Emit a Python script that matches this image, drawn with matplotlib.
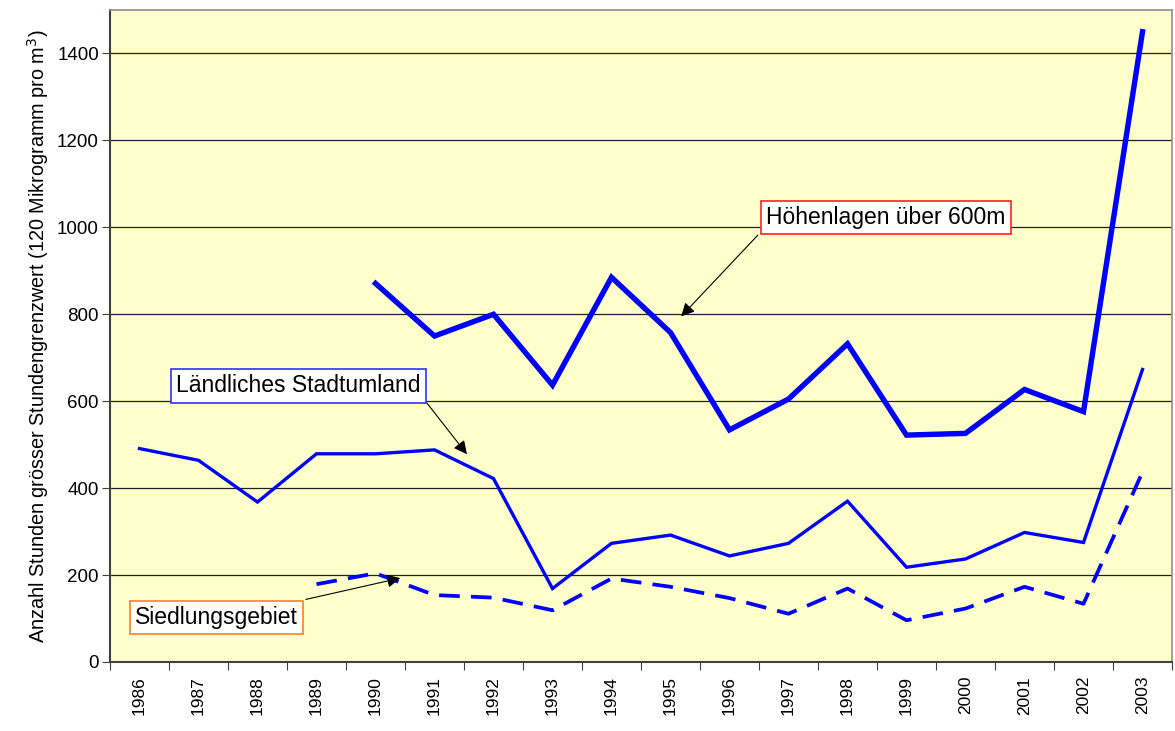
import matplotlib.pyplot as plt
import numpy as np

plt.rcParams['font.family'] = ['Liberation Sans', 'DejaVu Sans']

years = [str(y) for y in range(1986, 2004)]
nan = np.nan
hoehenlagen = [nan, nan, nan, nan, 871, 750, 800, 637, 885, 758, 534, 605, 732, 522, 526, 627, 576, 1450]
stadtumland = [491, 464, 368, 479, 479, 488, 422, 169, 273, 292, 244, 273, 370, 218, 237, 298, 275, 673]
siedlung = [nan, nan, nan, 179, 204, 154, 148, 119, 192, 173, 147, 111, 169, 96, 123, 173, 134, 437]

fig = plt.figure(figsize=(11.75, 7.31), dpi=100)
ax = fig.add_axes([110 / 1175, 1 - 662 / 731, (1172 - 110) / 1175, (662 - 10) / 731])
ax.set_facecolor('#FFFFCC')

x = np.arange(len(years))
ax.plot(x, hoehenlagen, color='#0000FF', lw=3.9, solid_joinstyle='miter', zorder=3)
ax.plot(x, stadtumland, color='#0000FF', lw=2.4, solid_joinstyle='miter', zorder=3)
ax.plot(x, siedlung, color='#0000FF', lw=2.7, linestyle=(0, (5.5, 3)), zorder=3)

ax.set_xlim(-0.5, len(years) - 0.5)
ax.set_ylim(0, 1500)
ax.set_yticks(range(0, 1401, 200))
ax.yaxis.grid(True, color='#202020', lw=0.9)
ax.set_axisbelow(True)

# ticks between categories, labels centred
ax.set_xticks(np.arange(-0.5, len(years), 1.0))
ax.set_xticklabels([])
ax.set_xticks(x, minor=True)
ax.set_xticklabels(years, minor=True, rotation=90, fontsize=12.5)
ax.tick_params(axis='x', which='minor', length=0, pad=10)
ax.tick_params(axis='x', which='major', direction='out', length=6, color='#404040')
ax.tick_params(axis='y', direction='out', length=6, labelsize=13.5, color='#404040', pad=2)

for s in ['left', 'bottom']:
    ax.spines[s].set_color('#404040')
    ax.spines[s].set_linewidth(1.5)
for s in ['top', 'right']:
    ax.spines[s].set_color('#909090')
    ax.spines[s].set_linewidth(1.2)

ax.set_ylabel('Anzahl Stunden grösser Stundengrenzwert (120 Mikrogramm pro m$^3$)',
              fontsize=14.3, labelpad=4)

arrow = dict(arrowstyle='-|>', color='black', lw=0.8, mutation_scale=20, shrinkA=0, shrinkB=0)

# annotations: (text, centre, arrow start, arrow tip, edge colour)
labels = [
    ('Höhenlagen über 600m', (12.65, 1022), (10.48, 982), (9.18, 795), '#FF2020'),
    ('Ländliches Stadtumland', (2.69, 635), (4.87, 596), (5.55, 478), '#3030FF'),
    ('Siedlungsgebiet', (1.30, 103), (2.82, 144), (4.42, 193), '#FF7F27'),
]
for txt, pos, start, tip, ec in labels:
    ax.annotate('', xy=tip, xytext=start, arrowprops=arrow, zorder=5)
    ax.text(pos[0], pos[1], txt, ha='center', va='center', fontsize=16.5, zorder=6,
            bbox=dict(boxstyle='square,pad=0.22', facecolor='white', edgecolor=ec, lw=1.2))

fig.savefig('out.png', dpi=100)
